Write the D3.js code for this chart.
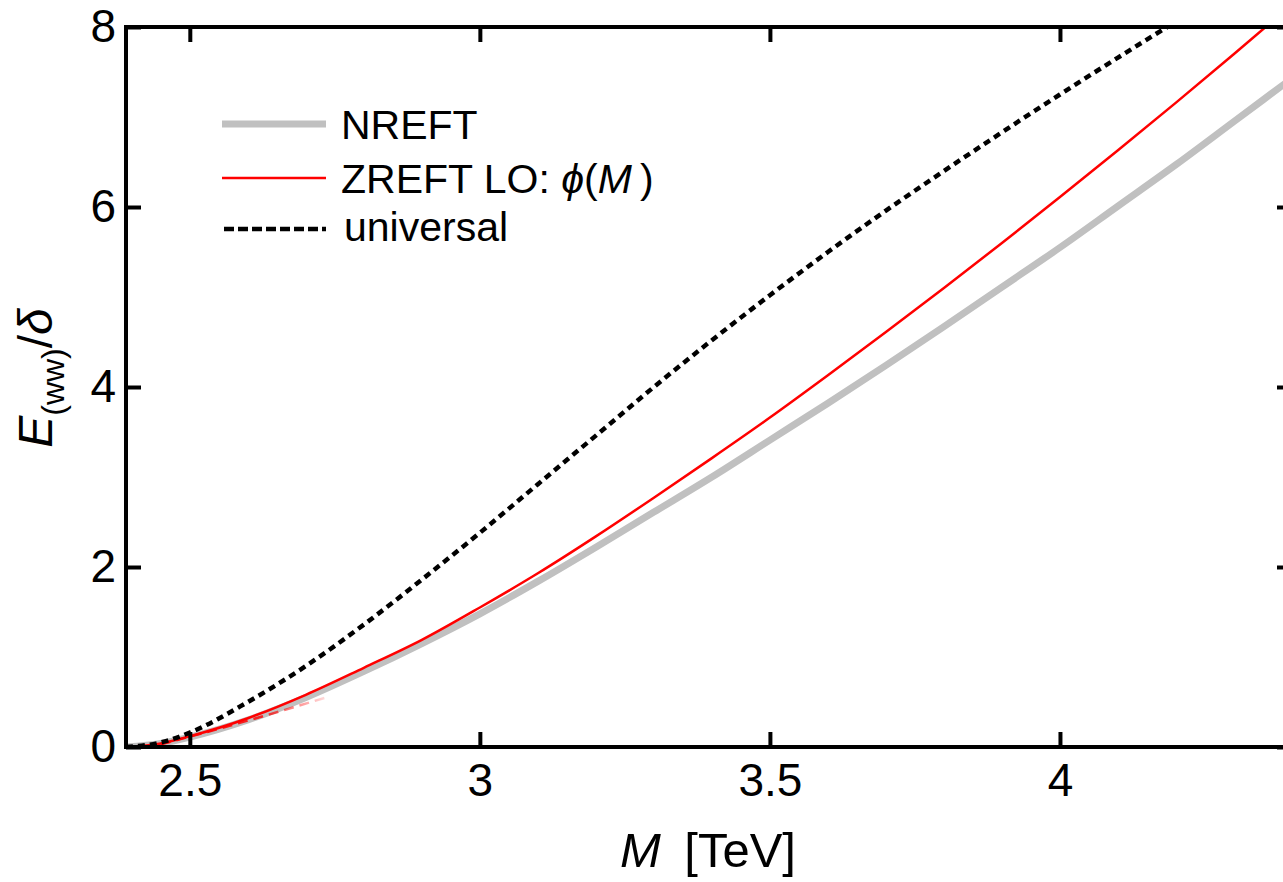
<!DOCTYPE html>
<html>
<head>
<meta charset="utf-8">
<script src="https://cdn.jsdelivr.net/npm/d3@7"></script>
<style>
  html, body { margin: 0; padding: 0; background: #fff; }
  svg { display: block; }
  text { font-family: "Liberation Sans", Arial, sans-serif; fill: #000; }
</style>
</head>
<body>
<svg id="chart" width="1283" height="882"></svg>
<script>
// Mass grid (TeV) and E_(ww)/delta for each curve
const massGrid = [2.39, 2.45, 2.5, 2.6, 2.7, 2.8, 2.9, 3.0, 3.1, 3.2, 3.3, 3.4, 3.5, 3.6, 3.7, 3.8, 3.9, 4.0, 4.1, 4.2, 4.3, 4.4];

const nreftE = [0, 0.04, 0.11, 0.30, 0.55, 0.84, 1.15, 1.48, 1.84, 2.22, 2.61, 3.00, 3.41, 3.82, 4.24, 4.67, 5.11, 5.55, 6.01, 6.47, 6.95, 7.43];
const zreftE = [0, 0.04, 0.12, 0.32, 0.58, 0.88, 1.19, 1.55, 1.93, 2.34, 2.77, 3.21, 3.66, 4.13, 4.61, 5.10, 5.60, 6.11, 6.63, 7.16, 7.70, 8.25];
const universalE = [0, 0.05, 0.16, 0.50, 0.90, 1.36, 1.86, 2.38, 2.92, 3.46, 4.00, 4.52, 5.02, 5.50, 5.96, 6.40, 6.83, 7.25, 7.66, 8.06, 8.45, 8.83];

// short dashed low-mass approximation
const zreftApproxM = [2.45, 2.52, 2.62, 2.74];
const zreftApproxE = [0.03, 0.15, 0.33, 0.56];

const xTicks = [2.5, 3, 3.5, 4];
const xTickLabels = ["2.5", "3", "3.5", "4"];
const yTicks = [0, 2, 4, 6, 8];
const yTickLabels = ["0", "2", "4", "6", "8"];

const legendLabels = ["NREFT", "ZREFT LO: ", "universal"];

const svg = d3.select("#chart");
const x = d3.scaleLinear().domain([2.39, 4.4]).range([126, 1292]);
const y = d3.scaleLinear().domain([0, 8]).range([747, 27]);

const defs = svg.append("defs");
defs.append("clipPath").attr("id", "plotClip")
  .append("rect")
  .attr("x", x.range()[0]).attr("y", y.range()[1])
  .attr("width", x.range()[1] - x.range()[0])
  .attr("height", y.range()[0] - y.range()[1]);

const fade = defs.append("linearGradient").attr("id", "fadeRed")
  .attr("gradientUnits", "userSpaceOnUse")
  .attr("x1", x(2.45)).attr("x2", x(2.74)).attr("y1", 0).attr("y2", 0);
fade.append("stop").attr("offset", "0%").attr("stop-color", "#ff0000").attr("stop-opacity", 1);
fade.append("stop").attr("offset", "60%").attr("stop-color", "#ff0000").attr("stop-opacity", 0.8);
fade.append("stop").attr("offset", "100%").attr("stop-color", "#ff0000").attr("stop-opacity", 0.1);

const line = d3.line()
  .x(d => x(d[0])).y(d => y(d[1]))
  .curve(d3.curveMonotoneX);

const zip = (a, b) => a.map((v, i) => [v, b[i]]);

const plot = svg.append("g").attr("clip-path", "url(#plotClip)");

plot.append("path").datum(zip(massGrid, nreftE))
  .attr("d", line).attr("fill", "none")
  .attr("stroke", "#c0c0c0").attr("stroke-width", 7);

plot.append("path").datum(zip(zreftApproxM, zreftApproxE))
  .attr("d", line).attr("fill", "none")
  .attr("stroke", "url(#fadeRed)").attr("stroke-width", 2.5)
  .attr("stroke-dasharray", "10,6");

plot.append("path").datum(zip(massGrid, zreftE))
  .attr("d", line).attr("fill", "none")
  .attr("stroke", "#ff0000").attr("stroke-width", 2.5);

plot.append("path").datum(zip(massGrid, universalE))
  .attr("d", line).attr("fill", "none")
  .attr("stroke", "#000").attr("stroke-width", 4.5)
  .attr("stroke-dasharray", "7,5");

// Axes: inward ticks on all four sides
const tickLen = 15;
const fontTick = 46;

function styleAxis(g) {
  g.select(".domain").remove();
  g.selectAll(".tick line").attr("stroke", "#000").attr("stroke-width", 4);
  g.selectAll(".tick text").style("font-size", fontTick + "px");
}

svg.append("g").attr("transform", `translate(0,${y(0)})`)
  .call(d3.axisBottom(x).tickValues(xTicks).tickFormat((d, i) => xTickLabels[i])
    .tickSize(-tickLen).tickPadding(16))
  .call(styleAxis);

svg.append("g").attr("transform", `translate(0,${y(8)})`)
  .call(d3.axisTop(x).tickValues(xTicks).tickFormat("").tickSize(-tickLen))
  .call(styleAxis);

svg.append("g").attr("transform", `translate(${x.range()[0]},0)`)
  .call(d3.axisLeft(y).tickValues(yTicks).tickFormat((d, i) => yTickLabels[i])
    .tickSize(-tickLen).tickPadding(10))
  .call(styleAxis);

svg.append("g").attr("transform", `translate(${x.range()[1]},0)`)
  .call(d3.axisRight(y).tickValues(yTicks).tickFormat("").tickSize(-tickLen))
  .call(styleAxis);

// Frame
svg.append("rect")
  .attr("x", x.range()[0]).attr("y", y.range()[1])
  .attr("width", x.range()[1] - x.range()[0])
  .attr("height", y.range()[0] - y.range()[1])
  .attr("fill", "none").attr("stroke", "#000").attr("stroke-width", 4);

// Axis titles
const xt = svg.append("text")
  .attr("x", 708).attr("y", 867)
  .attr("text-anchor", "middle")
  .style("font-size", "49px");
xt.append("tspan").style("font-style", "italic").text("M");
xt.append("tspan").text("\u2009 [TeV]");

const yt = svg.append("text")
  .attr("transform", "translate(52,378) rotate(-90)")
  .attr("text-anchor", "middle")
  .style("font-size", "48px");
yt.append("tspan").style("font-style", "italic").text("E");
yt.append("tspan").attr("dy", 12).style("font-size", "32px").text("(ww)");
yt.append("tspan").attr("dy", -12).text("/");
yt.append("tspan").style("font-style", "italic").text("\u03b4");

// Legend
const legendY = [124, 178, 229];
const lg = svg.append("g");
lg.append("line").attr("x1", 222).attr("x2", 326).attr("y1", legendY[0]).attr("y2", legendY[0])
  .attr("stroke", "#c0c0c0").attr("stroke-width", 7);
lg.append("line").attr("x1", 222).attr("x2", 326).attr("y1", legendY[1]).attr("y2", legendY[1])
  .attr("stroke", "#ff0000").attr("stroke-width", 2.5);
lg.append("line").attr("x1", 224).attr("x2", 326).attr("y1", legendY[2]).attr("y2", legendY[2])
  .attr("stroke", "#000").attr("stroke-width", 4.5).attr("stroke-dasharray", "10,4");

const legFont = 41;
lg.append("text").attr("x", 341).attr("y", legendY[0] + 15).style("font-size", legFont + "px").text(legendLabels[0]);
const l2 = lg.append("text").attr("x", 341).attr("y", legendY[1] + 15).style("font-size", legFont + "px");
l2.append("tspan").text(legendLabels[1]);
l2.append("tspan").style("font-style", "italic").text("\u03d5");
l2.append("tspan").text("(");
l2.append("tspan").style("font-style", "italic").text("M");
l2.append("tspan").text("\u2009)");
lg.append("text").attr("x", 344).attr("y", legendY[2] + 12).style("font-size", legFont + "px").text(legendLabels[2]);
</script>
</body>
</html>
